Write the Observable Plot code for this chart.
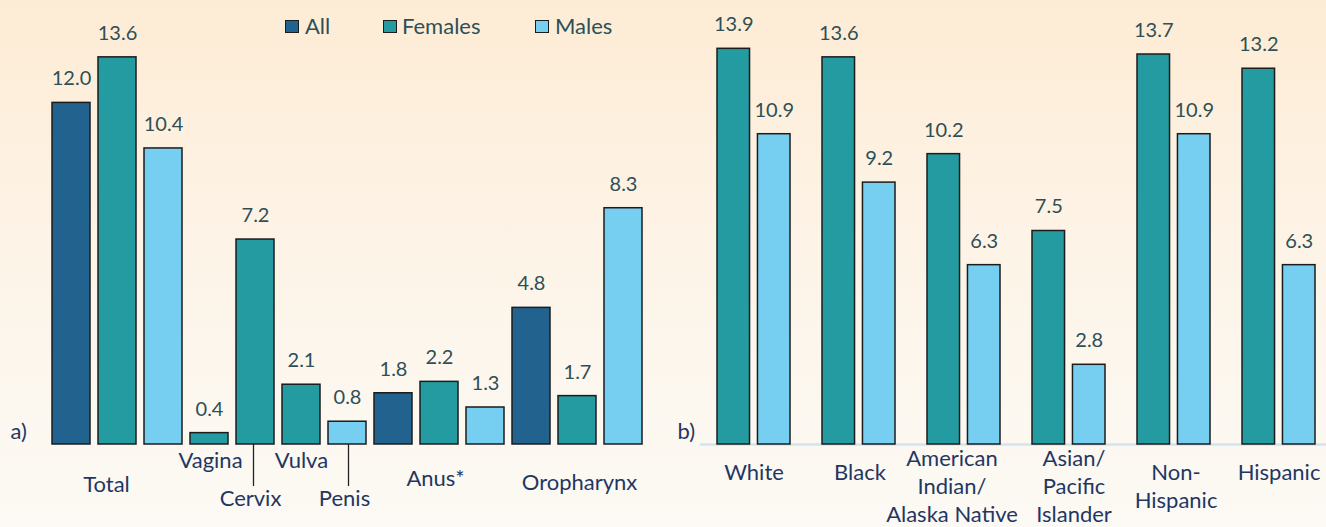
<!DOCTYPE html>
<html>
<head>
<meta charset="utf-8">
<script src="https://cdn.jsdelivr.net/npm/d3@7"></script>
<script src="https://cdn.jsdelivr.net/npm/@observablehq/plot@0.6"></script>
<style>
  html, body { margin: 0; padding: 0; }
  #chart {
    position: relative; width: 1326px; height: 527px; overflow: hidden;
    background: linear-gradient(to bottom, #fdecd5 0%, #fdf4e8 50%, #fcfaf5 100%);
    font-family: Lato, "Liberation Sans", sans-serif;
  }
  #left, #right { position: absolute; top: 0; }
  #left { left: 0; }
  #right { left: 663px; }
  .legend { position: absolute; top: 0; left: 0; height: 52px; width: 663px; }
  .sw { position: absolute; top: 20px; width: 12px; height: 11px; border: 1.3px solid #1c1c1c; }
  .lt { position: absolute; top: 13px; font-size: 22px; line-height: 26px; color: #2e4f56; white-space: nowrap; }
</style>
</head>
<body>
<div id="chart">
  <div id="left"></div>
  <div id="right"></div>
  <div class="legend" id="legend"></div>
</div>
<script>
// ---------- data ----------
const seriesNames = ["All", "Females", "Males"];
const seriesColors = ["#22628f", "#249ba1", "#76cef0"];

// panel a) : cancer site bars
const barSite   = ["Total", "Total", "Total", "Vagina", "Cervix", "Vulva", "Penis", "Anus*", "Anus*", "Anus*", "Oropharynx", "Oropharynx", "Oropharynx"];
const barSeries = ["All", "Females", "Males", "Females", "Females", "Females", "Males", "All", "Females", "Males", "All", "Females", "Males"];
const barValue  = [12.0, 13.6, 10.4, 0.4, 7.2, 2.1, 0.8, 1.8, 2.2, 1.3, 4.8, 1.7, 8.3];
const siteLabels = ["Total", "Vagina", "Cervix", "Vulva", "Penis", "Anus*", "Oropharynx"];

// panel b) : race / ethnicity
const raceGroups = ["White", "Black", "American\nIndian/\nAlaska Native", "Asian/\nPacific\nIslander", "Non-\nHispanic", "Hispanic"];
const femalesByRace = [13.9, 13.6, 10.2, 7.5, 13.7, 13.2];
const malesByRace   = [10.9, 9.2, 6.3, 2.8, 10.9, 6.3];

// ---------- layout ----------
const W = 663, H = 527, MT = 17, MB = 83;
const labelColor = "#2e4f56", catColor = "#1f3763", stroke = "#1c1c1c";
const catSize = 22;
const yScale = {domain: [0, 15], axis: null};
const colorScale = {domain: seriesNames, range: seriesColors};

const leftRows = barValue.map((v, i) => ({id: i, site: barSite[i], series: barSeries[i], value: v}));
// which bar each site label hangs under, and its offset (pixels)
const siteLabelLayout = {
  "Total":      {bar: 1,  dx: -11, dy: 47},
  "Vagina":     {bar: 3,  dx: 1,   dy: 23},
  "Cervix":     {bar: 4,  dx: -5,  dy: 61},
  "Vulva":      {bar: 5,  dx: 0,   dy: 23},
  "Penis":      {bar: 6,  dx: -3,  dy: 61},
  "Anus*":      {bar: 8,  dx: -4,  dy: 41},
  "Oropharynx": {bar: 11, dx: 2,   dy: 45}
};
const leaders = [{bar: 4, dx: -2}, {bar: 6, dx: 1}];

const leftMarks = [
  Plot.barY(leftRows, {x: "id", y: "value", fill: "series", stroke, strokeWidth: 1.5}),
  Plot.text(leftRows, {x: "id", y: "value", text: d => d.value.toFixed(1), dy: -24, fill: labelColor, fontSize: 20}),
  ...siteLabels.map(lab => {
    const L = siteLabelLayout[lab];
    return Plot.text([lab], {x: () => L.bar, text: d => d, frameAnchor: "bottom", dx: L.dx, dy: L.dy, fill: catColor, fontSize: catSize});
  }),
  ...leaders.map(l => Plot.ruleX([l.bar], {x: d => d, dx: l.dx, stroke: "#222", strokeWidth: 1.3,
      insetTop: H - MT - MB, insetBottom: -42})),
  Plot.text(["a)"], {text: d => d, frameAnchor: "bottom-left", textAnchor: "start", dx: -31, dy: -6, fill: catColor, fontSize: catSize})
];

const left = Plot.plot({
  width: W, height: H, marginLeft: 41, marginRight: 11, marginTop: MT, marginBottom: MB,
  style: {background: "transparent", fontFamily: "Lato, 'Liberation Sans', sans-serif", overflow: "visible"},
  x: {domain: d3.range(barValue.length), padding: 0.18, axis: null},
  y: yScale,
  color: colorScale,
  marks: leftMarks
});
document.getElementById("left").append(left);

// right panel
const raceRows = raceGroups.map((g, i) => ({group: g, females: femalesByRace[i], males: malesByRace[i]}));
const BW = (W - 53 - 11) / (raceGroups.length - 0.307) * (1 - 0.307);
const barW = (BW - 8) / 2;
const shift = BW / 2 - barW / 2;
// per-label placement (pixels): horizontal nudge and top offset below baseline
const raceLabelLayout = [
  {dx: 0, dy: 16}, {dx: 1, dy: 16}, {dx: -12, dy: 2},
  {dx: 5, dy: 2}, {dx: 2, dy: 16}, {dx: 0, dy: 16}
];

const right = Plot.plot({
  width: W, height: H, marginLeft: 53, marginRight: 11, marginTop: MT, marginBottom: MB,
  style: {background: "transparent", fontFamily: "Lato, 'Liberation Sans', sans-serif", overflow: "visible"},
  x: {domain: raceGroups, paddingInner: 0.307, paddingOuter: 0, axis: null},
  y: yScale,
  color: colorScale,
  marks: [
    Plot.ruleY([0], {stroke: "#cfe6ee", strokeWidth: 2.5, insetLeft: -16, insetRight: -11}),
    Plot.barY(raceRows, {x: "group", y: "females", fill: () => "Females", stroke, strokeWidth: 1.5, insetRight: BW - barW}),
    Plot.barY(raceRows, {x: "group", y: "males", fill: () => "Males", stroke, strokeWidth: 1.5, insetLeft: BW - barW}),
    Plot.text(raceRows, {x: "group", y: "females", text: d => d.females.toFixed(1), dx: -shift, dy: -24, fill: labelColor, fontSize: 20}),
    Plot.text(raceRows, {x: "group", y: "males", text: d => d.males.toFixed(1), dx: shift, dy: -24, fill: labelColor, fontSize: 20}),
    ...raceRows.map((r, i) => Plot.text([r], {x: "group", text: "group", frameAnchor: "bottom", lineAnchor: "top",
        lineHeight: 1.26, dx: raceLabelLayout[i].dx, dy: raceLabelLayout[i].dy, fill: catColor, fontSize: catSize})),
    Plot.text(["b)"], {text: d => d, frameAnchor: "bottom-left", textAnchor: "start", dx: -39, dy: -6, fill: catColor, fontSize: catSize})
  ]
});
document.getElementById("right").append(right);

// legend
const legendPos = [{sw: 285, tx: 305}, {sw: 383, tx: 402}, {sw: 535, tx: 555}];
const leg = document.getElementById("legend");
seriesNames.forEach((s, i) => {
  const sw = document.createElement("div");
  sw.className = "sw"; sw.style.left = legendPos[i].sw + "px"; sw.style.background = seriesColors[i];
  const t = document.createElement("div");
  t.className = "lt"; t.style.left = legendPos[i].tx + "px"; t.textContent = s;
  leg.append(sw, t);
});
</script>
</body>
</html>
